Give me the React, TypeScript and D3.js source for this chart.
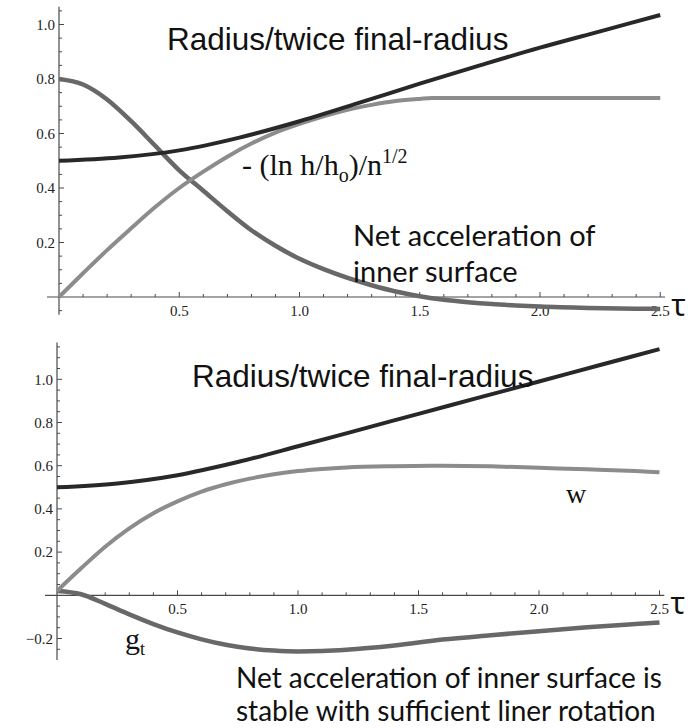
import React from "react";
import * as d3 from "d3";

// ---------- data ----------
const xTickLabels = ["0.5", "1.0", "1.5", "2.0", "2.5"];
const topYTickLabels = ["0.2", "0.4", "0.6", "0.8", "1.0"];
const botYTickLabels = ["\u22120.2", "0.2", "0.4", "0.6", "0.8", "1.0"];

const radiusTau = [0, 0.25, 0.5, 0.75, 1.0, 1.25, 1.5, 1.75, 2.0, 2.25, 2.5];
const topRadius = [0.5, 0.512, 0.538, 0.585, 0.645, 0.713, 0.783, 0.85, 0.915, 0.975, 1.035];
const botRadius = [0.5, 0.518, 0.556, 0.617, 0.69, 0.765, 0.84, 0.915, 0.99, 1.065, 1.14];

const lnTau = [0, 0.1, 0.2, 0.3, 0.4, 0.5, 0.6, 0.7, 0.8, 0.9, 1.0, 1.1, 1.2, 1.3, 1.4, 1.5, 1.55, 2.0, 2.5];
const topLnH = [0, 0.087, 0.172, 0.252, 0.33, 0.4, 0.46, 0.515, 0.563, 0.603, 0.635, 0.663, 0.687, 0.705, 0.719, 0.727, 0.73, 0.73, 0.73];

const accTau = [0, 0.1, 0.2, 0.3, 0.4, 0.5, 0.6, 0.7, 0.8, 0.9, 1.0, 1.1, 1.2, 1.3, 1.4, 1.5, 1.6, 1.7, 1.8, 1.9, 2.0, 2.2, 2.4, 2.5];
const topAcc = [0.8, 0.78, 0.725, 0.645, 0.555, 0.465, 0.39, 0.315, 0.245, 0.188, 0.14, 0.102, 0.07, 0.043, 0.02, 0.003, -0.01, -0.019, -0.026, -0.031, -0.035, -0.04, -0.043, -0.044];

const botTau = [0, 0.1, 0.2, 0.3, 0.4, 0.5, 0.6, 0.7, 0.8, 0.9, 1.0, 1.1, 1.2, 1.4, 1.6, 1.8, 2.0, 2.2, 2.4, 2.5];
const botW = [0.02, 0.125, 0.225, 0.31, 0.38, 0.435, 0.48, 0.514, 0.54, 0.56, 0.575, 0.585, 0.592, 0.598, 0.6, 0.597, 0.59, 0.583, 0.575, 0.57];
const botG = [0.02, 0.005, -0.04, -0.088, -0.133, -0.172, -0.204, -0.229, -0.246, -0.256, -0.26, -0.258, -0.252, -0.232, -0.205, -0.185, -0.166, -0.148, -0.133, -0.126];

const SERIF = "'Liberation Serif', 'Times New Roman', serif";
const SANS = "'Liberation Sans', Arial, sans-serif";
const CAL = "Lato, 'Open Sans', sans-serif";

type AxisProps = {
  x: d3.ScaleLinear<number, number>;
  y: d3.ScaleLinear<number, number>;
  yMin: number;
  yMax: number;
  yLabels: string[];
};

function Axes({ x, y, yMin, yMax, yLabels }: AxisProps) {
  const x0 = x(0);
  const y0 = y(0);
  const xMinor = d3.range(1, 26).map((i) => i / 10);
  const yMinor = d3.range(Math.ceil(yMin / 0.05), Math.floor(yMax / 0.05) + 1).map((i) => i * 0.05);
  const axisColor = "#4a4a4a";
  return (
    <g>
      <line x1={x0 - 12} x2={x(2.52)} y1={y0} y2={y0} stroke={axisColor} strokeWidth={1.2} />
      <line x1={x0} x2={x0} y1={y(yMin)} y2={y(yMax)} stroke={axisColor} strokeWidth={1.2} />
      {xMinor.map((t, i) => {
        const major = (i + 1) % 5 === 0;
        return (
          <line key={"xt" + i} x1={x(t)} x2={x(t)} y1={y0} y2={y0 - (major ? 5 : 3)} stroke={axisColor} strokeWidth={1} />
        );
      })}
      {yMinor.map((v, i) => {
        if (Math.abs(v) < 1e-9) return null;
        const major = Math.abs(Math.round(v / 0.05) % 4) === 0;
        return (
          <line key={"yt" + i} x1={x0} x2={x0 + (major ? 5 : 3)} y1={y(v)} y2={y(v)} stroke={axisColor} strokeWidth={1} />
        );
      })}
      {xTickLabels.map((s) => (
        <text key={"xl" + s} x={x(+s)} y={y0 + 19} textAnchor="middle" fontFamily={SERIF} fontSize={15} fill="#222">
          {s}
        </text>
      ))}
      {yLabels.map((s) => (
        <text key={"yl" + s} x={x0 - 4} y={y(+s.replace("\u2212", "-"))} dy="0.35em" textAnchor="end" fontFamily={SERIF} fontSize={15} fill="#222">
          {s}
        </text>
      ))}
      <text x={x(2.5) + 11} y={y0 + 19} fontFamily="'Noto Sans', sans-serif" fontSize={30} fill="#111">
        τ
      </text>
    </g>
  );
}

export default function App() {
  const xTop = d3.scaleLinear().domain([0, 2.5]).range([59, 660.25]);
  const yTop = d3.scaleLinear().domain([0, 1]).range([297, 24.5]);
  const xBot = d3.scaleLinear().domain([0, 2.5]).range([57, 659.5]);
  const yBot = d3.scaleLinear().domain([0, 1]).range([595.3, 379.3]);

  const mk = (xs: d3.ScaleLinear<number, number>, ys: d3.ScaleLinear<number, number>, ts: number[], vs: number[]) =>
    d3
      .line<number>()
      .x((_, i) => xs(ts[i]))
      .y((v) => ys(v))
      .curve(d3.curveMonotoneX)(vs) || "";

  const BLACK = "#282828";
  const LIGHT = "#8c8c8c";
  const DARK = "#686868";

  return (
    <svg width={691} height={728} style={{ position: "absolute", left: 0, top: 0, background: "#fff" }}>
      <rect width={691} height={728} fill="#fff" />
      {/* top chart */}
      <Axes x={xTop} y={yTop} yMin={-0.065} yMax={1.065} yLabels={topYTickLabels} />
      <path d={mk(xTop, yTop, accTau, topAcc)} fill="none" stroke={DARK} strokeWidth={4.5} />
      <path d={mk(xTop, yTop, lnTau, topLnH)} fill="none" stroke={LIGHT} strokeWidth={4} />
      <path d={mk(xTop, yTop, radiusTau, topRadius)} fill="none" stroke={BLACK} strokeWidth={4} />
      <text x={167} y={50} fontFamily={SANS} fontSize={31.5} fill="#111">
        Radius/twice final-radius
      </text>
      <text x={242} y={175} fontFamily={SERIF} fontSize={30} fill="#111">
        - (ln h/h
        <tspan fontSize={20} dy={7}>o</tspan>
        <tspan dy={-7}>)/n</tspan>
        <tspan fontSize={20} dy={-12}>1/2</tspan>
      </text>
      <text x={353} y={246} fontFamily={CAL} fontSize={29} fill="#111">
        Net acceleration of
      </text>
      <text x={353} y={282} fontFamily={CAL} fontSize={29} fill="#111">
        inner surface
      </text>

      {/* bottom chart */}
      <Axes x={xBot} y={yBot} yMin={-0.3} yMax={1.17} yLabels={botYTickLabels} />
      <path d={mk(xBot, yBot, botTau, botG)} fill="none" stroke={DARK} strokeWidth={4.5} />
      <path d={mk(xBot, yBot, botTau, botW)} fill="none" stroke={LIGHT} strokeWidth={4} />
      <path d={mk(xBot, yBot, radiusTau, botRadius)} fill="none" stroke={BLACK} strokeWidth={4} />
      <text x={192} y={387} fontFamily={SANS} fontSize={31.5} fill="#111">
        Radius/twice final-radius
      </text>
      <text x={566} y={503} fontFamily={SERIF} fontSize={28} fill="#111">
        w
      </text>
      <text x={125} y={649} fontFamily={SERIF} fontSize={30} fill="#111">
        g<tspan fontSize={18} dy={6}>t</tspan>
      </text>
      <text x={236} y={688} fontFamily={CAL} fontSize={28} fill="#111">
        Net acceleration of inner surface is
      </text>
      <text x={236} y={721} fontFamily={CAL} fontSize={28} fill="#111">
        stable with sufficient liner rotation
      </text>
    </svg>
  );
}
